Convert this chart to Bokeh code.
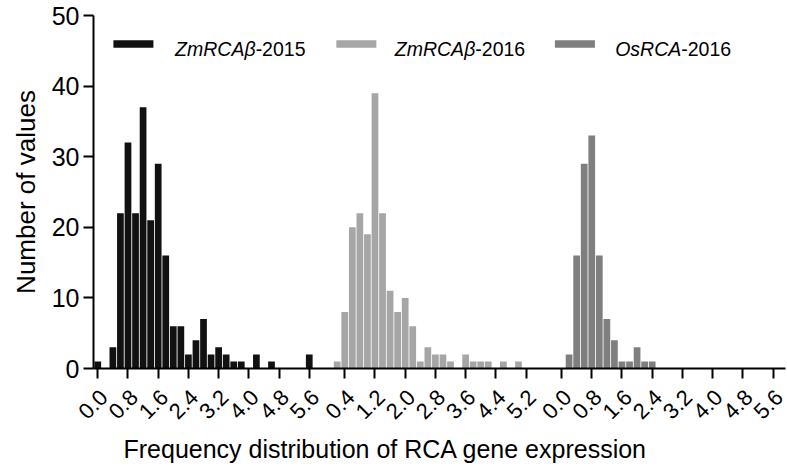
import math
from bokeh.plotting import figure
from bokeh.models import FixedTicker, Range1d, Title, LinearAxis, CustomJSTickFormatter
from bokeh.core.properties import value
from bokeh.embed import file_html
from bokeh.resources import INLINE

# ---------------- data ----------------
bin_centers = [0.0, 0.2, 0.4, 0.6, 0.8, 1.0, 1.2, 1.4, 1.6, 1.8, 2.0, 2.2, 2.4, 2.6,
               2.8, 3.0, 3.2, 3.4, 3.6, 3.8, 4.0, 4.2, 4.4, 4.6, 4.8, 5.0, 5.2, 5.4, 5.6]

zm_2015 = [1, 0, 3, 22, 32, 22, 37, 21, 29, 16, 6, 6, 2, 4, 7, 2, 3, 2, 1, 1,
           0, 2, 0, 1, 0, 0, 0, 0, 2]
zm_2016 = [0, 1, 8, 20, 22, 19, 39, 22, 11, 8, 10, 6, 1, 3, 2, 2, 1, 0, 2, 1,
           1, 1, 0, 1, 0, 1, 0, 0, 0]
os_2016 = [0, 2, 16, 29, 33, 16, 7, 4, 1, 1, 3, 1, 1, 0, 0, 0, 0, 0, 0, 0,
           0, 0, 0, 0, 0, 0, 0, 0, 0]

series_italic = ["ZmRCAβ", "ZmRCAβ", "OsRCA"]
series_suffix = ["-2015", "-2016", "-2016"]
series_counts = [zm_2015, zm_2016, os_2016]
series_colors = ["#111111", "#a6a6a6", "#7f7f7f"]

group_ticks = [
    [0.0, 0.8, 1.6, 2.4, 3.2, 4.0, 4.8, 5.6],
    [0.4, 1.2, 2.0, 2.8, 3.6, 4.4, 5.2],
    [0.0, 0.8, 1.6, 2.4, 3.2, 4.0, 4.8, 5.6],
]
group_tick_labels = [
    ["0.0", "0.8", "1.6", "2.4", "3.2", "4.0", "4.8", "5.6"],
    ["0.4", "1.2", "2.0", "2.8", "3.6", "4.4", "5.2"],
    ["0.0", "0.8", "1.6", "2.4", "3.2", "4.0", "4.8", "5.6"],
]
y_ticks = [0, 10, 20, 30, 40, 50]

x_title = "Frequency distribution of RCA gene expression"
y_title = "Number of values"

# ---------------- layout ----------------
GROUP_STEP = 6.14      # x distance between the starts of consecutive histograms
BAR_WIDTH = 0.178
FONT = "Liberation Sans"
X0, X1 = -0.113, 18.21
LABEL_SHIFT = 0.16     # shifts rotated tick labels a few px to the right

p = figure(width=787, height=468,
           x_range=Range1d(X0, X1), y_range=Range1d(0, 50),
           output_backend="svg", toolbar_location=None,
           min_border_left=90, min_border_right=2,
           min_border_top=15, min_border_bottom=100)
p.extra_x_ranges = {"labels": Range1d(X0 - LABEL_SHIFT, X1 - LABEL_SHIFT)}

tick_pos = []
overrides = {}
for g, counts in enumerate(series_counts):
    off = g * GROUP_STEP
    xs = [round(off + b, 6) for b, c in zip(bin_centers, counts) if c > 0]
    ys = [c for c in counts if c > 0]
    p.vbar(x=xs, top=ys, bottom=0, width=BAR_WIDTH,
           fill_color=series_colors[g], line_color=None)
    for t, lab in zip(group_ticks[g], group_tick_labels[g]):
        pos = round(off + t, 6)
        tick_pos.append(pos)
        overrides[pos] = lab

# legend (drawn manually to allow mixed italic / upright text)
leg_y_sw = 45.95
leg_y_txt = 45.25
sw_x = [0.944, 6.847, 12.634]
tx_x = [2.048, 7.865, 13.70]
LEG_FS = 19.5
em_w = {"Z": 0.611, "m": 0.833, "R": 0.722, "C": 0.722, "A": 0.667, "β": 0.574,
        "O": 0.778, "s": 0.5}
for i in range(3):
    p.rect(x=[sw_x[i]], y=[leg_y_sw], width=40, height=7.5,
           width_units="screen", height_units="screen",
           fill_color=series_colors[i], line_color=None)
    p.text(x=[tx_x[i]], y=[leg_y_txt], text=[series_italic[i]],
           text_font=value(FONT), text_font_size=f"{LEG_FS}px",
           text_font_style="italic", text_color="#000000",
           text_baseline="alphabetic", text_align="left")
    w = sum(em_w[ch] for ch in series_italic[i]) * LEG_FS
    p.text(x=[tx_x[i]], y=[leg_y_txt], text=[series_suffix[i]], x_offset=w,
           text_font=value(FONT), text_font_size=f"{LEG_FS}px",
           text_font_style="normal", text_color="#000000",
           text_baseline="alphabetic", text_align="left")

# main x axis: ticks only
xa = p.xaxis[0]
xa.ticker = FixedTicker(ticks=tick_pos, minor_ticks=[])
xa.formatter = CustomJSTickFormatter(code="return ''")
xa.major_label_text_font_size = "1px"
xa.major_label_standoff = 0

# label-only axis, slightly shifted
lab_ax = LinearAxis(x_range_name="labels",
                    ticker=FixedTicker(ticks=tick_pos, minor_ticks=[]))
lab_ax.major_label_overrides = overrides
lab_ax.major_label_orientation = math.pi / 4
lab_ax.axis_line_color = None
lab_ax.major_tick_line_color = None
lab_ax.minor_tick_line_color = None
lab_ax.major_tick_in = 0
lab_ax.major_tick_out = 0
lab_ax.major_label_standoff = 15
lab_ax.major_label_text_font = FONT
lab_ax.major_label_text_font_size = "22px"
lab_ax.major_label_text_color = "#000000"
p.add_layout(lab_ax, "below")

p.yaxis.ticker = FixedTicker(ticks=y_ticks, minor_ticks=[])
for ax in (xa, p.yaxis[0]):
    ax.axis_line_color = "#000000"
    ax.axis_line_width = 2
    ax.major_tick_line_color = "#000000"
    ax.major_tick_line_width = 2
    ax.major_tick_in = 0
    ax.major_tick_out = 10
    ax.minor_tick_line_color = None
    ax.major_label_text_font = FONT
    ax.major_label_text_color = "#000000"
p.yaxis.major_label_text_font_size = "25px"
p.yaxis.major_label_standoff = 4

# axis titles, placed off-centre like the reference
p.add_layout(Title(text=x_title, align="left", offset=30, standoff=8,
                   text_font=FONT, text_font_size="25px",
                   text_font_style="normal", text_color="#000000"), "below")
p.add_layout(Title(text=y_title, align="center", offset=29, standoff=16,
                   text_font=FONT, text_font_size="26px",
                   text_font_style="normal", text_color="#000000"), "left")

p.xgrid.grid_line_color = None
p.ygrid.grid_line_color = None
p.outline_line_color = None
p.background_fill_color = "white"
p.border_fill_color = "white"

open("out.html", "w").write(file_html(p, INLINE))
